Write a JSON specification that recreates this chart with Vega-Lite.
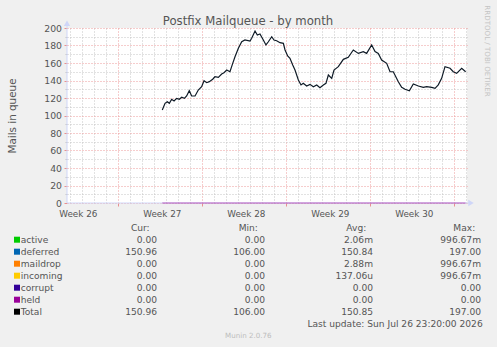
{
  "$schema": "https://vega.github.io/schema/vega-lite/v6.json",
  "width": 400,
  "height": 175,
  "autosize": {"type": "none"},
  "padding": {"left": 67, "top": 28, "right": 30, "bottom": 144},
  "background": "#f0f0f0",
  "config": {"view": {"fill": "#ffffff", "stroke": null}},
  "title": {
    "text": "Postfix Mailqueue - by month",
    "font": "DejaVu Sans",
    "fontSize": 11.7,
    "fontWeight": "normal",
    "color": "#555555",
    "anchor": "middle",
    "frame": "group",
    "baseline": "alphabetic",
    "dx": -19,
    "offset": -31.5
  },
  "datasets": {
    "queue": [
      {"day": 7.94, "mails": 106.3}, {"day": 8.17, "mails": 113.9}, {"day": 8.36, "mails": 115.8},
      {"day": 8.53, "mails": 113.9}, {"day": 8.72, "mails": 118.5}, {"day": 8.92, "mails": 116.6},
      {"day": 9.14, "mails": 119.6}, {"day": 9.36, "mails": 118.5}, {"day": 9.56, "mails": 120.8},
      {"day": 9.78, "mails": 119.6}, {"day": 9.97, "mails": 122.3}, {"day": 10.19, "mails": 128.3},
      {"day": 10.39, "mails": 122.3}, {"day": 10.67, "mails": 122.3}, {"day": 10.94, "mails": 129.1},
      {"day": 11.22, "mails": 132.9}, {"day": 11.42, "mails": 139.8}, {"day": 11.64, "mails": 137.5},
      {"day": 11.86, "mails": 138.7}, {"day": 12.14, "mails": 141.4}, {"day": 12.33, "mails": 144.3},
      {"day": 12.61, "mails": 143.6}, {"day": 12.89, "mails": 147.4}, {"day": 13.08, "mails": 148.9},
      {"day": 13.31, "mails": 152}, {"day": 13.58, "mails": 150}, {"day": 13.81, "mails": 159.6},
      {"day": 14.0, "mails": 167.2}, {"day": 14.28, "mails": 176.8}, {"day": 14.56, "mails": 184.3},
      {"day": 14.83, "mails": 186.3}, {"day": 15.25, "mails": 185.1}, {"day": 15.39, "mails": 188.2},
      {"day": 15.67, "mails": 196.5}, {"day": 15.86, "mails": 192}, {"day": 16.08, "mails": 193.1},
      {"day": 16.36, "mails": 186.3}, {"day": 16.58, "mails": 180.6}, {"day": 16.78, "mails": 184.3},
      {"day": 17.06, "mails": 190}, {"day": 17.25, "mails": 186.3}, {"day": 17.47, "mails": 185.5},
      {"day": 17.75, "mails": 183.2}, {"day": 18.03, "mails": 182.5}, {"day": 18.17, "mails": 174.9},
      {"day": 18.39, "mails": 168}, {"day": 18.58, "mails": 165.3}, {"day": 18.81, "mails": 157.7},
      {"day": 19.0, "mails": 152}, {"day": 19.28, "mails": 140.6}, {"day": 19.5, "mails": 134.9},
      {"day": 19.69, "mails": 136.8}, {"day": 19.97, "mails": 133.7}, {"day": 20.25, "mails": 135.6},
      {"day": 20.53, "mails": 132.9}, {"day": 20.81, "mails": 134.9}, {"day": 21.08, "mails": 131.8},
      {"day": 21.36, "mails": 134.9}, {"day": 21.58, "mails": 136.8}, {"day": 21.78, "mails": 146.3},
      {"day": 22.06, "mails": 142.5}, {"day": 22.25, "mails": 152}, {"day": 22.61, "mails": 155.8},
      {"day": 23.03, "mails": 164.2}, {"day": 23.44, "mails": 166.5}, {"day": 23.86, "mails": 174.9},
      {"day": 24.28, "mails": 171}, {"day": 24.69, "mails": 173}, {"day": 24.97, "mails": 171},
      {"day": 25.39, "mails": 180.6}, {"day": 25.67, "mails": 173}, {"day": 25.94, "mails": 171},
      {"day": 26.22, "mails": 163.4}, {"day": 26.64, "mails": 159.6}, {"day": 26.92, "mails": 150},
      {"day": 27.19, "mails": 150}, {"day": 27.61, "mails": 138.6}, {"day": 27.89, "mails": 132.2},
      {"day": 28.17, "mails": 130}, {"day": 28.53, "mails": 128.3}, {"day": 28.86, "mails": 136},
      {"day": 29.28, "mails": 133.7}, {"day": 29.69, "mails": 132.2}, {"day": 29.97, "mails": 133},
      {"day": 30.39, "mails": 132.2}, {"day": 30.67, "mails": 131}, {"day": 30.94, "mails": 135},
      {"day": 31.22, "mails": 142.5}, {"day": 31.5, "mails": 155.8}, {"day": 31.92, "mails": 154},
      {"day": 32.19, "mails": 150}, {"day": 32.47, "mails": 148.2}, {"day": 32.89, "mails": 154},
      {"day": 33.22, "mails": 150}
    ],
    "zero": [{"day": 7.94, "mails": 0}, {"day": 33.22, "mails": 0}],
    "legend": [
      {"series": "active", "Cur": "0.00", "Min": "0.00", "Avg": "2.06m", "Max": "996.67m"},
      {"series": "deferred", "Cur": "150.96", "Min": "106.00", "Avg": "150.84", "Max": "197.00"},
      {"series": "maildrop", "Cur": "0.00", "Min": "0.00", "Avg": "2.88m", "Max": "996.67m"},
      {"series": "incoming", "Cur": "0.00", "Min": "0.00", "Avg": "137.06u", "Max": "996.67m"},
      {"series": "corrupt", "Cur": "0.00", "Min": "0.00", "Avg": "0.00", "Max": "0.00"},
      {"series": "held", "Cur": "0.00", "Min": "0.00", "Avg": "0.00", "Max": "0.00"},
      {"series": "Total", "Cur": "150.96", "Min": "106.00", "Avg": "150.85", "Max": "197.00"}
    ],
    "headers": [
      {"col": "Cur", "label": "Cur:"}, {"col": "Min", "label": "Min:"},
      {"col": "Avg", "label": "Avg:"}, {"col": "Max", "label": "Max:"}
    ],
    "footer": [{"row": "update", "text": "Last update: Sun Jul 26 23:20:00 2026"}],
    "one": [{}]
  },
  "layer": [
    {
      "layer": [
        {
          "data": {"name": "one"},
          "mark": {"type": "rule", "color": "#cfd6f8", "strokeWidth": 1},
          "encoding": {
            "x": {"datum": 0, "type": "quantitative", "scale": {"domain": [0, 33.3333], "nice": false, "zero": false},
              "axis": {"orient": "bottom", "values": [0.28, 1.28, 2.28, 3.28, 5.28, 6.28, 7.28, 8.28, 9.28, 10.28, 12.28, 13.28, 14.28, 15.28, 16.28, 17.28, 19.28, 20.28, 21.28, 22.28, 23.28, 24.28, 26.28, 27.28, 28.28, 29.28, 30.28, 31.28, 33.28],
                "grid": true, "gridColor": "#c4c4c4", "gridDash": [1, 2], "labels": false, "ticks": false, "domain": false, "title": null}},
            "x2": {"datum": 33.55},
            "y": {"datum": 0, "type": "quantitative", "scale": {"domain": [0, 200], "nice": false, "zero": false},
              "axis": {"orient": "left", "values": [10, 30, 50, 70, 90, 110, 130, 150, 170, 190],
                "grid": true, "gridColor": "#c4c4c4", "gridDash": [1, 2], "labels": false, "ticks": true, "tickColor": "#c4c4c4", "tickSize": 2, "domain": false, "title": null}}
          }
        },
        {
          "data": {"name": "one"},
          "mark": {"type": "rule", "color": "#cfd6f8", "strokeWidth": 1},
          "encoding": {
            "x": {"datum": 0, "type": "quantitative", "scale": {"domain": [0, 33.3333], "nice": false, "zero": false},
              "axis": {"orient": "bottom", "values": [0.9, 7.9, 14.9, 21.9, 28.9],
                "labelExpr": "'Week ' + (26 + round((datum.value - 0.9) / 7))",
                "grid": false, "ticks": false, "domain": false, "title": null,
                "labelPadding": 13, "labelBaseline": "alphabetic", "labelFlush": false, "labelOverlap": false, "labelBound": false,
                "labelFont": "DejaVu Sans", "labelFontSize": 8.8, "labelColor": "#555555"}},
            "y": {"datum": 0, "type": "quantitative", "scale": {"domain": [0, 200], "nice": false, "zero": false}, "axis": null},
            "y2": {"datum": 205}
          }
        },
        {
          "data": {"name": "one"},
          "mark": {"type": "point", "shape": "triangle-up", "filled": true, "size": 40, "color": "#cfd6f8", "opacity": 1},
          "encoding": {
            "x": {"datum": 0, "type": "quantitative", "scale": {"domain": [0, 33.3333], "nice": false, "zero": false}, "axis": null},
            "y": {"datum": 205.5, "type": "quantitative", "scale": {"domain": [0, 200], "nice": false, "zero": false}, "axis": null}
          }
        },
        {
          "data": {"name": "one"},
          "mark": {"type": "point", "shape": "triangle-right", "filled": true, "size": 40, "color": "#cfd6f8", "opacity": 1},
          "encoding": {
            "x": {"datum": 33.67, "type": "quantitative", "scale": {"domain": [0, 33.3333], "nice": false, "zero": false}, "axis": null},
            "y": {"datum": 0, "type": "quantitative", "scale": {"domain": [0, 200], "nice": false, "zero": false}, "axis": null}
          }
        },
        {
          "data": {"name": "zero"},
          "mark": {"type": "line", "color": "#990099", "strokeWidth": 1, "opacity": 0.6},
          "encoding": {
            "x": {"field": "day", "type": "quantitative", "scale": {"domain": [0, 33.3333], "nice": false, "zero": false}, "axis": null},
            "y": {"field": "mails", "type": "quantitative", "scale": {"domain": [0, 200], "nice": false, "zero": false}, "axis": null}
          }
        },
        {
          "data": {"name": "queue"},
          "mark": {"type": "line", "color": "#0e1a26", "strokeWidth": 1.2},
          "encoding": {
            "x": {"field": "day", "type": "quantitative", "scale": {"domain": [0, 33.3333], "nice": false, "zero": false},
              "axis": {"orient": "bottom", "values": [4.28, 11.28, 18.28, 25.28, 32.28],
                "grid": true, "gridColor": "#ec9a9a", "gridDash": [1, 2], "labels": false, "ticks": true, "tickColor": "#e89090", "tickSize": 3, "domain": false, "title": null}},
            "y": {"field": "mails", "type": "quantitative", "scale": {"domain": [0, 200], "nice": false, "zero": false},
              "axis": {"orient": "left", "values": [0, 20, 40, 60, 80, 100, 120, 140, 160, 180, 200], "format": "d",
                "grid": true, "gridColor": "#ec9a9a", "gridDash": [1, 2], "ticks": true, "tickColor": "#e89090", "tickSize": 3, "domain": false,
                "labelPadding": 2.5, "labelFont": "DejaVu Sans", "labelFontSize": 9.3, "labelColor": "#555555", "labelBaseline": "middle",
                "title": "Mails in queue", "titleFont": "DejaVu Sans", "titleFontSize": 10.4, "titleFontWeight": "normal", "titleColor": "#555555",
                "titleAngle": -90, "titleX": -52, "titleY": 87.5, "titleAlign": "center", "titleBaseline": "alphabetic"}}
          }
        },
        {
          "data": {"name": "one"},
          "mark": {"type": "text", "text": "Munin 2.0.76", "font": "DejaVu Sans", "fontSize": 7.1, "color": "#bdbdbd", "align": "center", "baseline": "alphabetic"},
          "encoding": {
            "x": {"datum": 15.11, "type": "quantitative", "scale": {"domain": [0, 33.3333], "nice": false, "zero": false}, "axis": null},
            "y": {"datum": -154.3, "type": "quantitative", "scale": {"domain": [0, 200], "nice": false, "zero": false}, "axis": null}
          }
        },
        {
          "data": {"name": "one"},
          "mark": {"type": "text", "text": "RRDTOOL / TOBI OETIKER", "font": "DejaVu Sans", "fontSize": 7.1, "color": "#c4c4c4", "align": "center", "baseline": "middle", "angle": 90},
          "encoding": {
            "x": {"datum": 34.97, "type": "quantitative", "scale": {"domain": [0, 33.3333], "nice": false, "zero": false}, "axis": null},
            "y": {"datum": 173.7, "type": "quantitative", "scale": {"domain": [0, 200], "nice": false, "zero": false}, "axis": null}
          }
        }
      ],
      "resolve": {"axis": {"x": "independent", "y": "independent"}}
    },
    {
      "data": {"name": "legend"},
      "mark": {"type": "point", "shape": "square", "filled": true, "size": 36, "opacity": 1},
      "encoding": {
        "x": {"datum": "swatch", "type": "nominal", "scale": {"type": "point", "domain": ["swatch"], "range": [-50, -50], "padding": 0}, "axis": null},
        "y": {"field": "series", "type": "nominal", "scale": {"type": "point", "domain": ["header", "active", "deferred", "maildrop", "incoming", "corrupt", "held", "Total", "update"], "range": [199.7, 295.7], "padding": 0}, "axis": null},
        "color": {"field": "series", "type": "nominal", "scale": {"domain": ["active", "deferred", "maildrop", "incoming", "corrupt", "held", "Total"], "range": ["#00cc00", "#0066b3", "#ff8000", "#ffcc00", "#330099", "#990099", "#000000"]}, "legend": null}
      }
    },
    {
      "data": {"name": "legend"},
      "mark": {"type": "text", "align": "left", "baseline": "alphabetic", "font": "DejaVu Sans", "fontSize": 9.1, "color": "#555555"},
      "encoding": {
        "x": {"datum": "label", "type": "nominal", "scale": {"type": "point", "domain": ["label"], "range": [-46.3, -46.3], "padding": 0}, "axis": null},
        "y": {"field": "series", "type": "nominal", "scale": {"type": "point", "domain": ["header", "active", "deferred", "maildrop", "incoming", "corrupt", "held", "Total", "update"], "range": [202.5, 298.5], "padding": 0}, "axis": null},
        "text": {"field": "series"}
      }
    },
    {
      "data": {"name": "legend"},
      "transform": [{"fold": ["Cur", "Min", "Avg", "Max"], "as": ["col", "val"]}],
      "mark": {"type": "text", "align": "right", "baseline": "alphabetic", "font": "DejaVu Sans", "fontSize": 9.1, "color": "#555555"},
      "encoding": {
        "x": {"field": "col", "type": "nominal", "scale": {"type": "point", "domain": ["Cur", "Min", "Avg", "Max"], "range": [90, 414], "padding": 0}, "axis": null},
        "y": {"field": "series", "type": "nominal", "scale": {"type": "point", "domain": ["header", "active", "deferred", "maildrop", "incoming", "corrupt", "held", "Total", "update"], "range": [202.5, 298.5], "padding": 0}, "axis": null},
        "text": {"field": "val"}
      }
    },
    {
      "data": {"name": "headers"},
      "mark": {"type": "text", "align": "center", "baseline": "alphabetic", "dx": -16.7, "font": "DejaVu Sans", "fontSize": 9.1, "color": "#555555"},
      "encoding": {
        "x": {"field": "col", "type": "nominal", "scale": {"type": "point", "domain": ["Cur", "Min", "Avg", "Max"], "range": [90, 414], "padding": 0}, "axis": null},
        "y": {"datum": "header", "type": "nominal", "scale": {"type": "point", "domain": ["header", "active", "deferred", "maildrop", "incoming", "corrupt", "held", "Total", "update"], "range": [202.5, 298.5], "padding": 0}, "axis": null},
        "text": {"field": "label"}
      }
    },
    {
      "data": {"name": "footer"},
      "mark": {"type": "text", "align": "right", "baseline": "alphabetic", "dx": 1.7, "font": "DejaVu Sans", "fontSize": 9.1, "color": "#555555"},
      "encoding": {
        "x": {"datum": "Max", "type": "nominal", "scale": {"type": "point", "domain": ["Cur", "Min", "Avg", "Max"], "range": [90, 414], "padding": 0}, "axis": null},
        "y": {"field": "row", "type": "nominal", "scale": {"type": "point", "domain": ["header", "active", "deferred", "maildrop", "incoming", "corrupt", "held", "Total", "update"], "range": [202.5, 298.5], "padding": 0}, "axis": null},
        "text": {"field": "text"}
      }
    }
  ],
  "resolve": {"scale": {"x": "independent", "y": "independent", "color": "independent"}}
}
